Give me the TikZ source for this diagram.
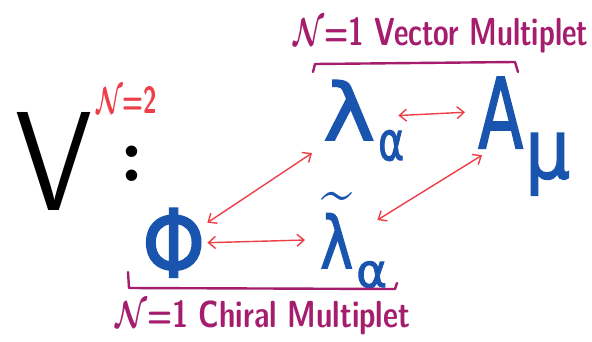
\documentclass[tikz,border=0pt]{standalone}
\usepackage{fontspec}
\usepackage{graphicx}
\usetikzlibrary{arrows.meta}
\newfontfamily\hand[FakeBold=2]{DejaVu Sans}
\definecolor{hblue}{RGB}{25,85,175}
\definecolor{hred}{RGB}{238,62,72}
\definecolor{hmag}{RGB}{165,30,110}
\newcommand{\bcalN}{{\boldmath$\mathcal{N}$}}
\tikzset{
  lbl/.style={inner sep=0pt, anchor=north west},
  sym/.style={lbl, text=hblue, font=\hand},
  rarrow/.style={draw=hred, line width=1.4pt,
    {Straight Barb[length=7pt,width=12pt]}-{Straight Barb[length=7pt,width=12pt]}},
  brack/.style={draw=hmag, line width=2.4pt, line cap=round, line join=round},
}
\begin{document}
\begin{tikzpicture}[x=1pt,y=-1pt]
\useasboundingbox[fill=white] (0,0) rectangle (592,341);
% V^{N=2} :
\node[lbl, text=black] (V) at (15,112) {\resizebox{77pt}{98pt}{\sffamily V}};
\node[lbl, text=hred] (n2) at (96,86) {\resizebox{61pt}{27pt}{\sffamily\bfseries\bcalN=2}};
\node[inner sep=0pt, font=\fontsize{80}{80}\selectfont\bfseries] (colon) at (132,164) {:};
% labels
\node[lbl, text=hmag] (vm) at (293,17) {\resizebox{295pt}{28pt}{\sffamily\bfseries\bcalN=1 Vector Multiplet}};
\node[lbl, text=hmag] (cm) at (115,300) {\resizebox{295pt}{27pt}{\sffamily\bfseries\bcalN=1 Chiral Multiplet}};
% fields
\node[sym] (phi) at (142,208) {\resizebox{63pt}{69pt}{Φ}};
\node[sym] (lam) at (323,80) {\resizebox{52pt}{60pt}{λ}\kern3pt\raisebox{-20pt}{\resizebox{26pt}{30pt}{α}}};
\node[sym] (lamt) at (320,192) {\resizebox*{33pt}{76pt}{$\widetilde{\hbox{\hand λ}}$}\kern3pt\raisebox{-19pt}{\resizebox{31pt}{26pt}{α}}};
\node[sym] (Amu) at (478,77) {\resizebox{45pt}{71pt}{A}\kern2pt\raisebox{-30pt}{\resizebox*{45pt}{62pt}{μ}}};
% brackets
\draw[brack] (313,72) -- (315,64) -- (515,62) -- (518,72);
\draw[brack] (128,272) -- (129,288) -- (395,289) -- (397,283);
% arrows
\draw[rarrow] ([xshift=-6pt,yshift=5pt]lam.east) -- ([xshift=-13pt,yshift=24pt]Amu.west);
\draw[rarrow] ([xshift=2pt]phi.east) -- ([xshift=-15pt]lamt.west);
\draw[rarrow] ([xshift=2pt,yshift=20pt]phi.east) -- ([xshift=-11pt,yshift=8pt]lam.south west);
\draw[rarrow] ([xshift=-10pt,yshift=-28pt]lamt.north east) -- ([xshift=4pt,yshift=-19pt]Amu.west);
\end{tikzpicture}
\end{document}
